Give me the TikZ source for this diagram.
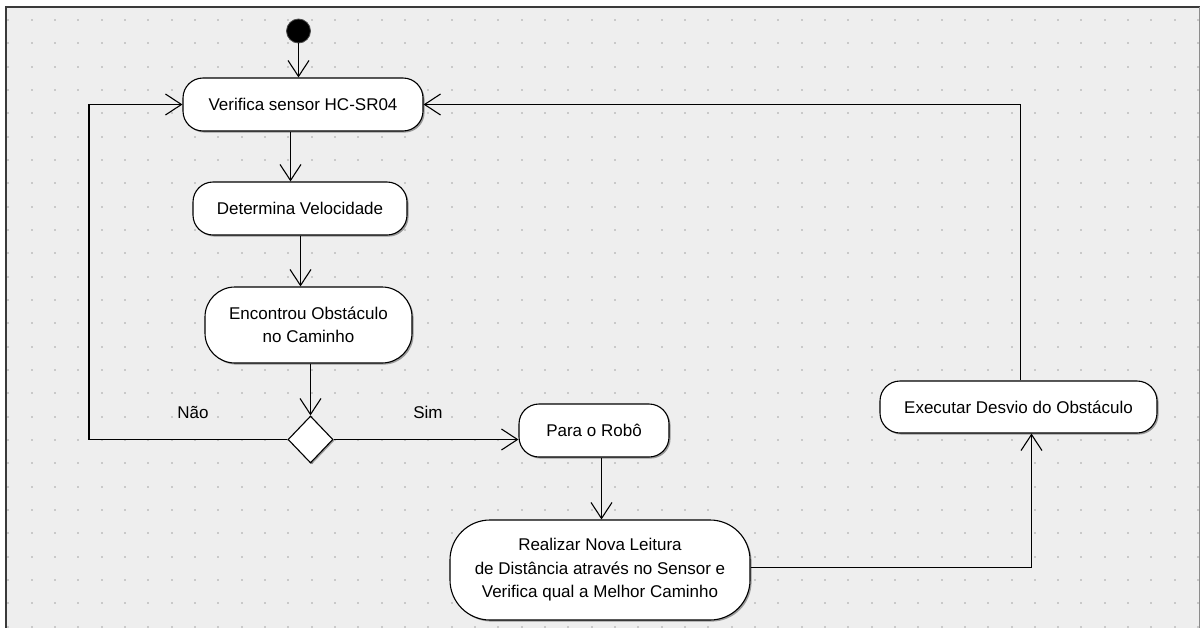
\documentclass[tikz,border=0pt]{standalone}
\usepackage{fontspec}
\setmainfont{Liberation Sans}
\usetikzlibrary{arrows.meta,shapes.geometric,shadows,calc}

\definecolor{canvasbg}{HTML}{EEEEEE}
\definecolor{griddot}{HTML}{C9C9C9}
\definecolor{framecol}{HTML}{3A3A3A}

\tikzset{
  actbox/.style={draw=black, line width=1.1pt, fill=white, rectangle,
    inner sep=0pt, align=center,
    font=\fontsize{17pt}{23.5pt}\selectfont,
    drop shadow={shadow xshift=1.6pt, shadow yshift=-1.6pt, opacity=0.35, fill=black}},
  decision/.style={draw=black, line width=1.1pt, fill=white, diamond,
    inner sep=0pt, minimum width=45pt, minimum height=47pt,
    drop shadow={shadow xshift=1.4pt, shadow yshift=-1.4pt, opacity=0.35, fill=black}},
  startdot/.style={circle, fill=black, draw=black!70, line width=0.8pt,
    minimum size=24pt, inner sep=0pt},
  flow/.style={draw=black, line width=1.1pt,
    -{Straight Barb[length=16pt, width=21pt, line width=1.1pt]}},
  guard/.style={font=\fontsize{17pt}{20pt}\selectfont, inner sep=0pt},
}

\begin{document}
\begin{tikzpicture}[x=1pt, y=-1pt]
  \useasboundingbox (0,0) rectangle (1202,627);

  % canvas with border and dotted grid
  \fill[white] (0,0) rectangle (1202,627);
  \fill[canvasbg] (6,6.5) rectangle (1199.5,640);
  \foreach \i in {0,...,51} {
    \foreach \j in {0,...,26} {
      \fill[griddot] ({8.3+23.33*\i-1},{20+23.33*\j-1}) rectangle +(2,2);
    }
  }
  \draw[framecol, line width=2pt] (6,640) -- (6,6.5) -- (1199.5,6.5);
  \draw[black!45, line width=1pt] (1199.5,6.5) -- (1199.5,640);

  % activities
  \node[startdot] (start) at (298.5,31) {};
  \node[actbox, minimum width=240pt, minimum height=53pt, rounded corners=20pt]
    (verif) at (303,104.5) {Verifica sensor HC-SR04};
  \node[actbox, minimum width=214pt, minimum height=53pt, rounded corners=20pt]
    (determ) at (300,208.5) {Determina Velocidade};
  \node[actbox, minimum width=207pt, minimum height=76pt, rounded corners=30pt]
    (encon) at (308.5,325) {Encontrou Obstáculo\\no Caminho};
  \node[decision] (dec) at (310.5,439.5) {};
  \node[actbox, minimum width=150pt, minimum height=53pt, rounded corners=20pt]
    (para) at (594,430.5) {Para o Robô};
  \node[actbox, minimum width=300pt, minimum height=100pt, rounded corners=40pt]
    (realiz) at (600,570) {Realizar Nova Leitura\\de Distância através no Sensor e\\Verifica qual a Melhor Caminho};
  \node[actbox, minimum width=277pt, minimum height=52pt, rounded corners=20pt]
    (exec) at (1018.5,407) {Executar Desvio do Obstáculo};

  % guard labels
  \node[guard] (nao) at (193,412) {Não};
  \node[guard] (sim) at (428,412) {Sim};

  % attachment points of the flows
  \coordinate (verifout) at ($(verif.south)+(-12.5,0)$);
  \coordinate (determout) at ($(determ.south)+(0.5,0)$);
  \coordinate (paraout) at ($(para.south)+(7.5,0)$);
  \coordinate (realizout) at ($(realiz.east)+(0,-2.5)$);
  \coordinate (execin) at ($(exec.south)+(13,0)$);
  \coordinate (execout) at ($(exec.north)+(2,0)$);
  \coordinate (loopl) at ($(verif.west)+(-93.5,0)$);

  % control flow
  \draw[flow] (start.south) -- (start.south |- verif.north);
  \draw[flow] (verifout) -- (verifout |- determ.north);
  \draw[flow] (determout) -- (determout |- encon.north);
  \draw[flow] (encon.south -| dec.north) -- (dec.north);
  \draw[flow] (dec.west) -| (loopl) -- (verif.west);
  \draw[flow] (dec.east) -- (dec.east -| para.west);
  \draw[flow] (paraout) -- (paraout |- realiz.north);
  \draw[flow] (realizout) -| (execin);
  \draw[flow] (execout) |- (verif.east);
\end{tikzpicture}
\end{document}
